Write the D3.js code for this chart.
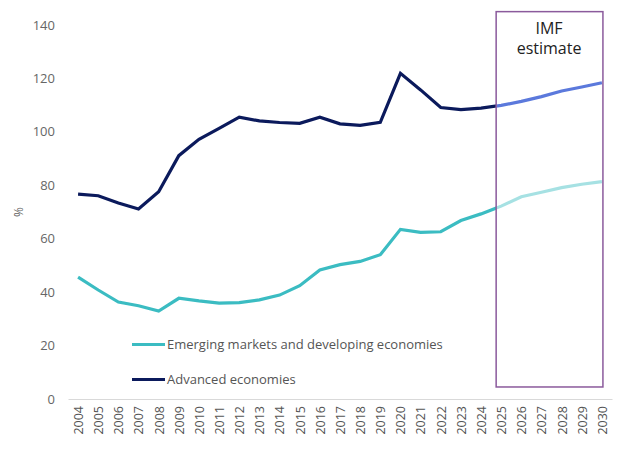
<!DOCTYPE html>
<html lang="en">
    <head>
        <meta charset="utf-8">
        <title>Government debt, % of GDP</title>
        <script src="https://d3js.org/d3.v7.min.js" charset="utf-8"></script>
        <style>
            body { margin: 0; background: #fff; }
            text { font-family: "Open Sans", "Noto Sans", sans-serif; }
        </style>
    </head>
    <body>
        <script type="text/javascript">

            // data
            var years = d3.range(2004, 2031);
            var advanced = [76.7, 76.1, 73.4, 71.1, 77.6, 91.1, 97.2, 101.3, 105.5, 104.1, 103.5, 103.2,
                            105.5, 103.0, 102.4, 103.6, 121.9, 115.7, 109.1, 108.3, 108.9, 109.9,
                            111.4, 113.2, 115.3, 116.8, 118.4];
            var emerging = [45.6, 40.8, 36.3, 34.9, 32.9, 37.7, 36.7, 35.9, 36.1, 37.1, 38.9, 42.4,
                            48.3, 50.3, 51.5, 54.0, 63.5, 62.4, 62.6, 66.8, 69.3, 72.2,
                            75.7, 77.4, 79.1, 80.4, 81.4];
            var yTicks = [0, 20, 40, 60, 80, 100, 120, 140];
            var estimateFrom = 2024.75;   // start of the IMF estimate box
            var boxRange = [4.5, 145];

            var series = [
                { name: "Emerging markets and developing economies", values: emerging, color: "#3bbcc2", est: "#a6e1e3" },
                { name: "Advanced economies", values: advanced, color: "#0b1a5c", est: "#5b79dc" }
            ];

            var w = 624, h = 450;
            var svg = d3.select("body").append("svg")
                .attr("width", w)
                .attr("height", h);

            var x = d3.scalePoint().domain(years).range([68, 612]).padding(0.5);
            var step = x.step();
            var xv = function (yr) { return x(2004) + (yr - 2004) * step; };
            var y = d3.scaleLinear().domain([0, 140]).range([399, 25]);

            // y axis labels
            svg.append("g").selectAll("text")
                .data(yTicks)
                .enter().append("text")
                .attr("x", 55)
                .attr("y", function (d) { return y(d); })
                .attr("dy", "0.35em")
                .attr("text-anchor", "end")
                .attr("fill", "#666")
                .style("font-size", "13px")
                .text(function (d) { return d; });

            svg.append("text")
                .attr("transform", "translate(23,212) rotate(-90)")
                .attr("text-anchor", "middle")
                .attr("fill", "#666")
                .style("font-size", "12px")
                .text("%");

            // x axis
            var xAxis = svg.append("g")
                .attr("transform", "translate(0," + y(0) + ")")
                .call(d3.axisBottom(x).tickSize(0).tickPadding(0));
            xAxis.select(".domain").attr("stroke", "#d9d9d9").attr("stroke-width", 1.2);
            xAxis.selectAll(".tick text")
                .attr("transform", "rotate(-90)")
                .attr("x", -7)
                .attr("y", 0)
                .attr("dy", "0.35em")
                .attr("text-anchor", "end")
                .attr("fill", "#555")
                .style("font-family", "'Open Sans', sans-serif")
                .style("font-size", "12.5px");

            // clip regions for actual / estimate parts
            var defs = svg.append("defs");
            defs.append("clipPath").attr("id", "hist")
                .append("rect").attr("x", 0).attr("y", 0).attr("width", xv(estimateFrom)).attr("height", h);
            defs.append("clipPath").attr("id", "est")
                .append("rect").attr("x", xv(estimateFrom)).attr("y", 0).attr("width", w).attr("height", h);

            var line = d3.line()
                .x(function (d, i) { return x(years[i]); })
                .y(function (d) { return y(d); });

            series.forEach(function (s) {
                svg.append("path")
                    .attr("d", line(s.values))
                    .attr("fill", "none")
                    .attr("stroke", s.color)
                    .attr("stroke-width", 3.2)
                    .attr("clip-path", "url(#hist)");
                svg.append("path")
                    .attr("d", line(s.values))
                    .attr("fill", "none")
                    .attr("stroke", s.est)
                    .attr("stroke-width", 3.2)
                    .attr("clip-path", "url(#est)");
            });

            // IMF estimate box
            svg.append("rect")
                .attr("x", xv(estimateFrom))
                .attr("y", y(boxRange[1]))
                .attr("width", x(2030) + 1 - xv(estimateFrom))
                .attr("height", y(boxRange[0]) - y(boxRange[1]))
                .attr("fill", "none")
                .attr("stroke", "#8b5a9c")
                .attr("stroke-width", 1.5);

            var boxMid = (xv(estimateFrom) + x(2030)) / 2;
            svg.append("text")
                .attr("x", boxMid).attr("y", 34)
                .attr("text-anchor", "middle")
                .attr("fill", "#222")
                .style("font-size", "16px")
                .text("IMF");
            svg.append("text")
                .attr("x", boxMid).attr("y", 54)
                .attr("text-anchor", "middle")
                .attr("fill", "#222")
                .style("font-size", "16px")
                .text("estimate");

            // legend
            var legend = svg.append("g").selectAll("g")
                .data(series)
                .enter().append("g")
                .attr("transform", function (d, i) { return "translate(132," + (344.5 + i * 35) + ")"; });
            legend.append("line")
                .attr("x1", 0).attr("x2", 33)
                .attr("stroke", function (d) { return d.color; })
                .attr("stroke-width", 3.2);
            legend.append("text")
                .attr("x", 35)
                .attr("dy", "0.35em")
                .attr("fill", "#555")
                .style("font-size", "13px")
                .text(function (d) { return d.name; });

        </script>
    </body>
</html>
